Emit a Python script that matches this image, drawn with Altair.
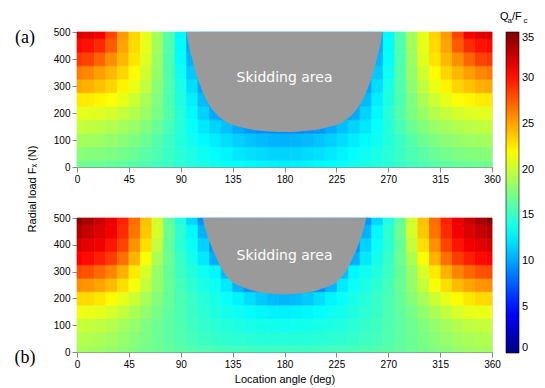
import altair as alt
import pandas as pd

# ---------------- data ----------------
ANGLES_HALF = [0, 10, 20, 30, 40, 50, 60, 70, 80, 90, 100, 110, 120, 130, 140, 150, 160, 170, 180]
LOADS = [0, 50, 100, 150, 200, 250, 300, 350, 400, 450, 500]

# panel (a): rows = LOADS, columns = ANGLES_HALF (field is symmetric about 180 deg)
Q_A = [
    [17.0, 16.9, 16.8, 16.6, 16.4, 16.1, 15.8, 15.4, 15.0, 14.6, 14.3, 14.0, 13.7, 13.4, 13.2, 13.0, 12.8, 12.7, 12.6],
    [17.8, 17.7, 17.6, 17.4, 17.1, 16.7, 16.2, 15.7, 15.1, 14.5, 14.0, 13.6, 13.2, 12.8, 12.4, 12.1, 11.9, 11.7, 11.6],
    [18.8, 18.7, 18.5, 18.2, 17.9, 17.4, 16.8, 16.0, 15.1, 14.3, 13.6, 13.0, 12.5, 12.0, 11.5, 11.1, 10.8, 10.6, 10.5],
    [19.8, 19.7, 19.5, 19.2, 18.8, 18.3, 17.6, 16.7, 15.6, 14.4, 13.3, 12.4, 11.7, 11.0, 10.2, 9.6, 9.3, 9.2, 9.1],
    [21.0, 20.9, 20.7, 20.4, 19.9, 19.3, 18.4, 17.3, 16.0, 14.4, 13.0, 11.6, 10.2, 9.5, 9.2, 9.1, 9.0, 9.0, 9.0],
    [22.6, 22.5, 22.2, 21.8, 21.1, 20.2, 19.0, 17.5, 15.8, 14.2, 12.6, 10.8, 9.5, 9.1, 9.0, 9.0, 9.0, 9.0, 9.0],
    [24.8, 24.6, 24.0, 23.3, 22.3, 21.2, 19.7, 17.9, 15.9, 14.0, 12.0, 10.0, 9.2, 9.0, 9.0, 9.0, 9.0, 9.0, 9.0],
    [26.4, 26.0, 25.2, 24.3, 23.3, 22.0, 20.3, 18.2, 15.9, 13.6, 11.3, 9.5, 9.0, 9.0, 9.0, 9.0, 9.0, 9.0, 9.0],
    [28.7, 28.4, 27.2, 25.8, 24.3, 22.8, 20.8, 18.4, 15.8, 13.2, 10.6, 9.2, 9.0, 9.0, 9.0, 9.0, 9.0, 9.0, 9.0],
    [30.3, 30.0, 29.2, 27.5, 25.0, 23.1, 21.1, 18.6, 15.9, 13.1, 10.2, 9.0, 9.0, 9.0, 9.0, 9.0, 9.0, 9.0, 9.0],
    [32.0, 31.7, 30.9, 28.3, 25.3, 23.3, 21.1, 18.7, 15.9, 13.0, 10.0, 9.0, 9.0, 9.0, 9.0, 9.0, 9.0, 9.0, 9.0],
]

# panel (b)
Q_B = [
    [18.8, 18.7, 18.5, 18.2, 17.9, 17.5, 17.1, 16.8, 16.5, 16.2, 16.0, 15.8, 15.6, 15.5, 15.4, 15.3, 15.2, 15.2, 15.2],
    [19.3, 19.2, 19.0, 18.7, 18.3, 17.8, 17.3, 16.8, 16.3, 15.9, 15.5, 15.2, 14.9, 14.7, 14.6, 14.5, 14.4, 14.4, 14.4],
    [20.0, 19.9, 19.7, 19.3, 18.8, 18.2, 17.5, 16.9, 16.3, 15.8, 15.3, 14.9, 14.6, 14.3, 14.1, 13.9, 13.8, 13.7, 13.6],
    [21.3, 21.2, 21.0, 20.5, 19.8, 19.0, 18.1, 17.2, 16.4, 15.7, 15.1, 14.6, 14.2, 13.8, 13.5, 13.2, 12.9, 12.7, 12.6],
    [23.2, 23.1, 22.7, 22.0, 21.1, 20.1, 18.9, 17.7, 16.6, 15.7, 15.0, 14.4, 13.9, 13.4, 12.8, 12.0, 11.3, 10.8, 10.6],
    [25.7, 25.5, 25.0, 24.2, 23.0, 21.6, 19.9, 18.2, 16.7, 15.5, 14.6, 14.0, 13.5, 12.4, 10.5, 9.3, 9.1, 9.0, 9.0],
    [28.0, 27.8, 27.1, 26.1, 24.6, 22.6, 20.5, 18.3, 16.6, 15.2, 14.3, 13.6, 12.9, 10.8, 9.3, 9.0, 9.0, 9.0, 9.0],
    [30.6, 30.3, 29.6, 28.6, 26.8, 24.5, 21.7, 19.0, 16.8, 15.0, 13.8, 12.4, 10.3, 9.2, 9.0, 9.0, 9.0, 9.0, 9.0],
    [32.0, 31.6, 31.0, 29.9, 28.3, 25.6, 23.0, 19.8, 16.6, 14.6, 13.4, 11.6, 9.5, 9.0, 9.0, 9.0, 9.0, 9.0, 9.0],
    [33.2, 32.6, 31.8, 31.0, 29.2, 26.6, 23.8, 20.4, 16.9, 14.7, 13.0, 10.5, 9.0, 9.0, 9.0, 9.0, 9.0, 9.0, 9.0],
    [34.5, 33.6, 32.5, 31.3, 29.5, 26.9, 24.0, 20.3, 16.5, 14.2, 11.8, 9.5, 9.0, 9.0, 9.0, 9.0, 9.0, 9.0, 9.0],
]

# skidding-area lower boundary (left half, mirrored about 180 deg)
SKID_A_ANGLE = [95, 97, 100, 103, 107, 112, 120, 130, 140, 150, 160, 170, 180]
SKID_A_LOAD = [500, 450, 400, 350, 300, 250, 200, 165, 150, 140, 134, 131, 130]
SKID_B_ANGLE = [109, 112, 116, 121, 127, 135, 145, 155, 165, 180]
SKID_B_LOAD = [500, 450, 400, 350, 300, 260, 240, 226, 219, 215]

X_TICKS = [0, 45, 90, 135, 180, 225, 270, 315, 360]
Y_TICKS = [0, 100, 200, 300, 400, 500]
CBAR_TICKS = [0, 5, 10, 15, 20, 25, 30, 35]
JET_STOPS = [0, 4.375, 13.125, 21.875, 30.625, 35]
JET_COLORS = ["#00007f", "#0000ff", "#00ffff", "#ffff00", "#ff0000", "#7f0000"]


# ---------------- build tables ----------------
def cell_table(q):
    rows = []
    for j, load in enumerate(LOADS):
        y0, y1 = max(0, load - 25), min(500, load + 25)
        for i, a in enumerate(ANGLES_HALF):
            v = q[j][i]
            if a == 180:
                rows.append(dict(x0=175, x1=185, y0=y0, y1=y1, q=v))
            else:
                rows.append(dict(x0=max(0, a - 5), x1=a + 5, y0=y0, y1=y1, q=v))
                rows.append(dict(x0=360 - (a + 5), x1=min(360, 360 - a + 5), y0=y0, y1=y1, q=v))
    return pd.DataFrame(rows)


def skid_table(angles, loads):
    pts = list(zip(angles, loads))
    mirrored = [(360 - a, l) for a, l in reversed(pts) if a != 180]
    allp = pts + mirrored
    return pd.DataFrame({"angle": [p[0] for p in allp], "load": [p[1] for p in allp], "top": 500})


cscale = alt.Scale(domain=JET_STOPS, range=JET_COLORS, interpolate="rgb")
xs = alt.Scale(domain=[0, 360], nice=False, zero=False)
ys = alt.Scale(domain=[0, 500], nice=False)

FONT = "Liberation Sans"


def panel(q, sk_a, sk_l, label, label_y, text_load, bottom):
    df = cell_table(q)
    sk = skid_table(sk_a, sk_l)
    xaxis = alt.Axis(values=X_TICKS, title="Location angle (deg)" if bottom else None,
                     labelFlush=False, labelOverlap=False, titleFontWeight="normal",
                     titleFont=FONT, titleFontSize=11, titleColor="black")
    yaxis = alt.Axis(values=Y_TICKS, title=None, labelOverlap=False)
    heat = alt.Chart(df).mark_rect(strokeWidth=0.7).encode(
        x=alt.X("x0:Q", scale=xs, axis=xaxis),
        x2="x1",
        y=alt.Y("y0:Q", scale=ys, axis=yaxis),
        y2="y1",
        color=alt.Color("q:Q", scale=cscale, legend=alt.Legend(
            type="gradient",
            orient="none", legendX=429, legendY=0, direction="vertical",
            gradientLength=321, gradientThickness=13, title=None,
            values=CBAR_TICKS, labelFont=FONT, labelFontSize=11, labelColor="black",
            gradientStrokeColor="black", gradientStrokeWidth=0.6, labelOffset=3)),
        stroke=alt.Stroke("q:Q", scale=cscale, legend=None),
    )
    skid = alt.Chart(sk).mark_area(color="#9a9a9a", interpolate="monotone").encode(
        x=alt.X("angle:Q", scale=xs, axis=xaxis),
        y=alt.Y("load:Q", scale=ys, axis=yaxis),
        y2="top",
    )
    txt = alt.Chart(pd.DataFrame({"t": ["Skidding area"], "a": [180], "l": [text_load]})).mark_text(
        color="white", font="DejaVu Sans", fontSize=14
    ).encode(
        x=alt.X("a:Q", scale=xs, axis=xaxis),
        y=alt.Y("l:Q", scale=ys, axis=yaxis),
        text="t:N",
    )
    lab = alt.Chart(pd.DataFrame({"t": [label]})).mark_text(
        font="Liberation Serif", fontSize=18, color="black", align="center", baseline="middle"
    ).encode(x=alt.value(-52), y=alt.value(label_y), text="t:N")
    return [heat, skid, txt, lab]


top_layers = panel(Q_A, SKID_A_ANGLE, SKID_A_LOAD, "(a)", 6, 330, False)
bot_layers = panel(Q_B, SKID_B_ANGLE, SKID_B_LOAD, "(b)", 140, 358, True)

# y-axis title and colour-bar title (with subscripts) as text marks
ytitle = alt.Chart(pd.DataFrame({"t": ["Radial load F\u2093 (N)"]})).mark_text(
    font=FONT, fontSize=11, color="black", angle=270, align="center", baseline="middle"
).encode(x=alt.value(-44), y=alt.value(157), text="t:N")

cb_parts = [("Q", 423, -12, 11), ("a", 430.5, -9, 8), ("/F", 435, -12, 11), ("c", 446.5, -9, 8)]
cb_layers = []
for t, px, py, fs in cb_parts:
    cb_layers.append(
        alt.Chart(pd.DataFrame({"t": [t]})).mark_text(
            font=FONT, fontSize=fs, color="black", align="left", baseline="alphabetic"
        ).encode(x=alt.value(px), y=alt.value(py), text="t:N")
    )

top = alt.layer(*top_layers, ytitle, *cb_layers).properties(width=415, height=135)
bottom = alt.layer(*bot_layers).properties(width=415, height=134)

chart = alt.vconcat(top, bottom, spacing=51, bounds="flush").resolve_scale(
    color="shared", stroke="shared"
).resolve_legend(color="shared", stroke="independent").properties(
    padding={"left": 14, "top": 10, "right": 5, "bottom": 5}
).configure_view(stroke=None).configure_axis(
    grid=False, domain=False, ticks=False, labelFont=FONT, labelFontSize=11,
    labelColor="black", labelPadding=5, titleFont=FONT, titleFontSize=11,
    titleColor="black", titleFontWeight="normal", titlePadding=4
).configure(background="white")

chart.save("out.html", embed_options={"renderer": "svg", "actions": False})
